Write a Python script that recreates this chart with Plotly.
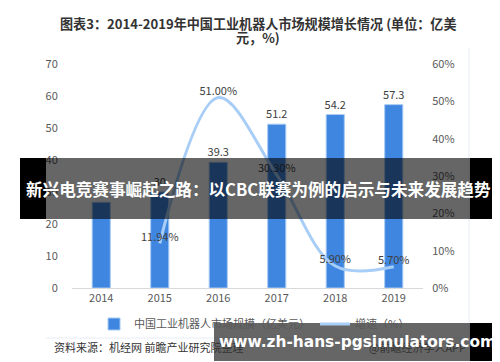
import plotly.graph_objects as go

years = ["2014", "2015", "2016", "2017", "2018", "2019"]
market_size = [26.8, 30.0, 39.3, 51.2, 54.2, 57.3]
market_labels = ["", "30", "39.3", "51.2", "54.2", "57.3"]
growth = [None, 11.94, 51.00, 30.30, 5.90, 5.70]
growth_labels = ["", "11.94%", "51.00%", "30.30%", "5.90%", "5.70%"]
left_ticks = [0, 10, 20, 30, 40, 50, 60, 70]
right_ticks = [0, 10, 20, 30, 40, 50, 60]
right_tick_text = [f"{v}%" for v in right_ticks]

FONT = "Noto Sans CJK SC"
W, H = 500, 362
L, R, T, B = 64, 85, 56, 82
pw, ph = W - L - R, H - T - B


def px(x):
    return (x - L) / pw


def py(y):
    return (H - B - y) / ph


fig = go.Figure()
fig.add_trace(go.Bar(
    x=years, y=market_size, name="中国工业机器人市场规模（亿美元）",
    marker=dict(color="#3f86e0", line=dict(color="#a9cbf3", width=1)),
    text=market_labels, textposition="outside", cliponaxis=False, constraintext="none",
    textfont=dict(size=11, color="#404040", family=FONT),
))
fig.add_trace(go.Scatter(
    x=years, y=growth, name="增速（%）", yaxis="y2", mode="lines+text",
    line=dict(color="#a8cdf6", width=3, shape="spline", smoothing=1.0),
    text=growth_labels, textposition="top center", cliponaxis=False,
    textfont=dict(size=11, color="#404040", family=FONT),
))

shapes = [
    dict(type="line", xref="paper", yref="paper", x0=px(461), x1=px(461), y0=py(40), y1=py(330),
         line=dict(color="#e6eef7", width=1)),
    dict(type="line", xref="paper", yref="paper", x0=px(38), x1=px(461), y0=py(330), y1=py(330),
         line=dict(color="#e6eef7", width=1)),
    # overlay banner
    dict(type="rect", xref="paper", yref="paper", x0=px(12), x1=px(38), y0=py(211), y1=py(150),
         fillcolor="black", line=dict(width=0)),
    dict(type="rect", xref="paper", yref="paper", x0=px(38), x1=px(462), y0=py(211), y1=py(150),
         fillcolor="rgba(0,0,0,0.6)", line=dict(width=0)),
    dict(type="rect", xref="paper", yref="paper", x0=px(462), x1=px(488), y0=py(211), y1=py(150),
         fillcolor="black", line=dict(width=0)),
    # bottom banner
    dict(type="rect", xref="paper", yref="paper", x0=px(206), x1=px(462), y0=py(353), y1=py(315),
         fillcolor="rgba(0,0,0,0.6)", line=dict(width=0)),
    dict(type="rect", xref="paper", yref="paper", x0=px(462), x1=px(490), y0=py(353), y1=py(315),
         fillcolor="black", line=dict(width=0)),
]

annotations = [
    dict(text="<b>图表3：2014-2019年中国工业机器人市场规模增长情况 (单位：亿美</b>", xref="paper", yref="paper",
         x=px(250), y=py(16), xanchor="center", yanchor="middle", showarrow=False,
         font=dict(size=13.1, color="#333333", family=FONT)),
    dict(text="<b>元，%)</b>", xref="paper", yref="paper",
         x=px(250), y=py(30), xanchor="center", yanchor="middle", showarrow=False,
         font=dict(size=13.1, color="#333333", family=FONT)),
    dict(text="资料来源：机经网 前瞻产业研究院整理", xref="paper", yref="paper",
         x=px(44), y=py(339), xanchor="left", yanchor="middle", showarrow=False,
         font=dict(size=11, color="#333333", family=FONT)),
    dict(text="@前瞻经济学人APP", xref="paper", yref="paper",
         x=px(460), y=py(339), xanchor="right", yanchor="middle", showarrow=False,
         font=dict(size=11, color="#333333", family=FONT)),
    dict(text="<b>新兴电竞赛事崛起之路：以CBC联赛为例的启示与未来发展趋势</b>", xref="paper", yref="paper",
         x=px(250), y=py(181), xanchor="center", yanchor="middle", showarrow=False,
         font=dict(size=16.6, color="white", family=FONT)),
    dict(text="<b>www.zh-hans-pgsimulators.com</b>", xref="paper", yref="paper",
         x=px(349), y=py(334), xanchor="center", yanchor="middle", showarrow=False,
         font=dict(size=15.4, color="white", family="DejaVu Sans")),
]

fig.update_layout(
    width=W, height=H,
    margin=dict(l=L, r=R, t=T, b=B),
    paper_bgcolor="white", plot_bgcolor="white",
    font=dict(family=FONT, size=11, color="#595959"),
    bargap=0.69,
    xaxis=dict(showgrid=False, showline=True, linecolor="#d9d9d9", ticks="",
               tickfont=dict(size=11, color="#595959")),
    yaxis=dict(range=[0, 70], tickvals=left_ticks, showgrid=False, zeroline=False,
               ticks="outside", ticklen=11, tickcolor="rgba(0,0,0,0)",
               tickfont=dict(size=11, color="#595959")),
    yaxis2=dict(range=[0, 60], tickvals=right_ticks, ticktext=right_tick_text, overlaying="y", side="right",
                showgrid=False, zeroline=False, ticks="outside", ticklen=6, tickcolor="rgba(0,0,0,0)",
                tickfont=dict(size=11, color="#595959")),
    legend=dict(orientation="h", x=0.52, xanchor="center", y=py(316), yanchor="middle",
                font=dict(size=11, color="#595959"), itemwidth=30, bgcolor="rgba(0,0,0,0)"),
    shapes=shapes,
    annotations=annotations,
)

fig.write_html("out.html")
